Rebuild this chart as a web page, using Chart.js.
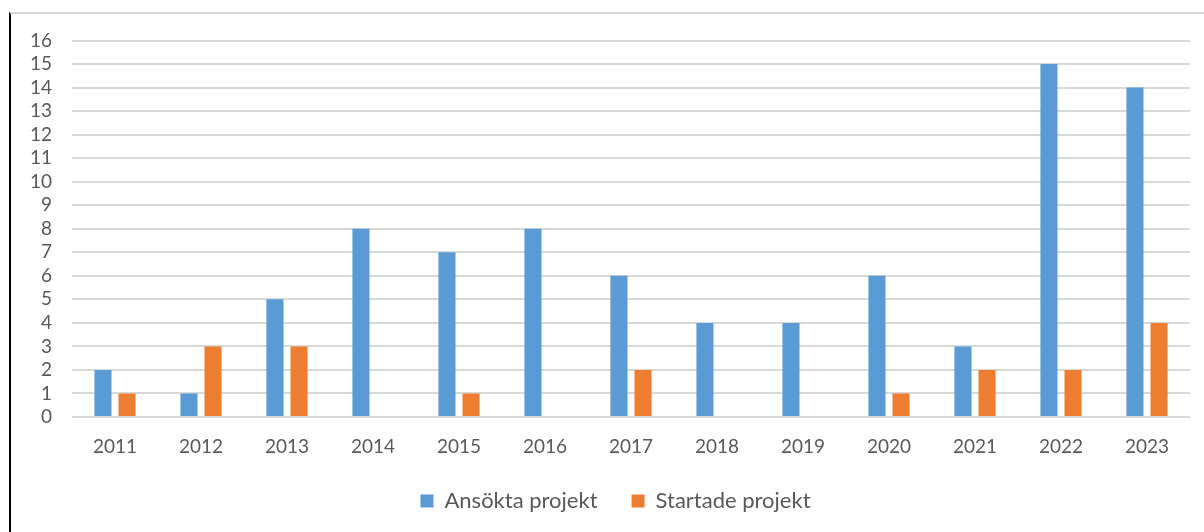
<!DOCTYPE html>
<html>
<head>
<meta charset="utf-8">
<script src="https://cdn.jsdelivr.net/npm/chart.js@4"></script>
<style>
  html, body { margin: 0; padding: 0; background: #fff; }
  .frame {
    position: absolute;
    left: 9px;
    top: 12px;
    width: 1193px;
    height: 520px;
    border-left: 2px solid #000;
    border-top: 2px solid #d9d9d9;
  }
  canvas { display: block; }
</style>
</head>
<body>
<div class="frame">
  <canvas id="projChart" width="1193" height="518"></canvas>
</div>
<script>
  const years = ["2011", "2012", "2013", "2014", "2015", "2016", "2017", "2018", "2019", "2020", "2021", "2022", "2023"];
  const ansokta = [2, 1, 5, 8, 7, 8, 6, 4, 4, 6, 3, 15, 14];
  const startade = [1, 3, 3, 0, 1, 0, 2, 0, 0, 1, 2, 2, 4];

  const fontFamily = "Lato, 'Open Sans', sans-serif";
  const textColor = "#595959";

  // keep tick labels from pushing the plot area around
  const noLabelPadding = (scale) => {
    scale.paddingTop = 0;
    scale.paddingBottom = 0;
    scale.paddingLeft = 0;
    scale.paddingRight = 0;
  };

  const ctx = document.getElementById("projChart").getContext("2d");
  new Chart(ctx, {
    type: "bar",
    data: {
      labels: years,
      datasets: [
        {
          label: "Ansökta projekt",
          data: ansokta,
          backgroundColor: "#5B9BD5",
          categoryPercentage: 0.56,
          barPercentage: 0.71,
        },
        {
          label: "Startade projekt",
          data: startade,
          backgroundColor: "#ED7D31",
          categoryPercentage: 0.56,
          barPercentage: 0.71,
        },
      ],
    },
    options: {
      responsive: false,
      animation: false,
      layout: {
        padding: { left: 0, right: 14, top: 26.5, bottom: 10 },
      },
      plugins: {
        legend: {
          position: "bottom",
          labels: {
            color: textColor,
            font: { family: fontFamily, size: 22 },
            boxWidth: 13,
            boxHeight: 13,
            padding: 34,
          },
        },
        tooltip: { enabled: false },
      },
      scales: {
        x: {
          grid: { display: false },
          border: { display: false },
          ticks: {
            color: textColor,
            font: { family: fontFamily, size: 19 },
            padding: 10,
            maxRotation: 0,
          },
          afterFit: function (scale) {
            scale.height = 39;
            noLabelPadding(scale);
          },
        },
        y: {
          min: 0,
          max: 16,
          ticks: {
            stepSize: 1,
            autoSkip: false,
            color: textColor,
            font: { family: fontFamily, size: 19 },
            padding: 20,
          },
          grid: {
            color: "#d9d9d9",
            lineWidth: 2,
            drawTicks: false,
          },
          border: { display: false },
          afterFit: function (scale) {
            scale.width = 61;
            noLabelPadding(scale);
          },
        },
      },
    },
    plugins: [
      {
        id: "legendShift",
        afterLayout: function (chart) {
          // legend in the original sits a bit right of centre
          chart.legend.left += 15;
          chart.legend.right += 15;
        },
      },
    ],
  });
</script>
</body>
</html>
